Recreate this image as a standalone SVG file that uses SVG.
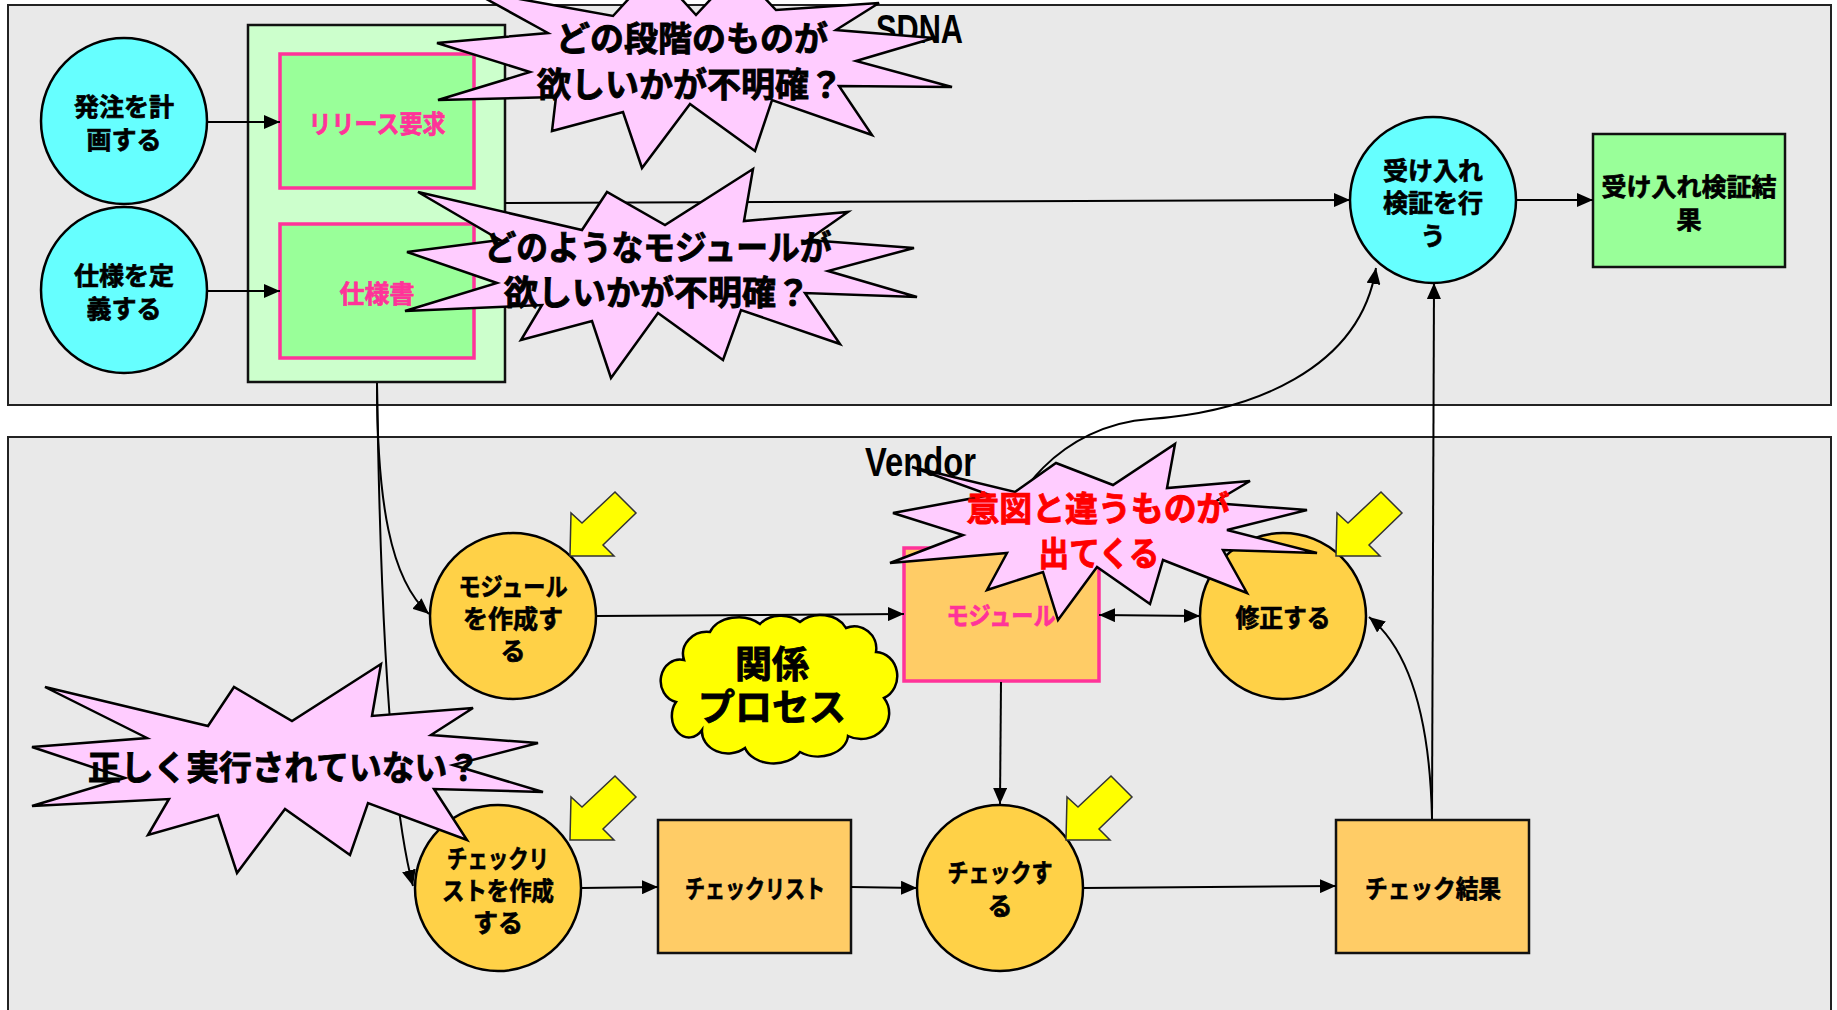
<svg xmlns="http://www.w3.org/2000/svg" width="1837" height="1010" viewBox="0 0 1837 1010">
<defs>
<style>
.lane{fill:#E9E9E9;stroke:#222;stroke-width:2}
.lbl{font-family:"Liberation Sans Narrow","Liberation Sans",Arial,sans-serif;font-size:40px;font-weight:700;fill:#000}
.t{font-family:"Noto Sans CJK JP",sans-serif;font-weight:700;font-size:25px;fill:#000;stroke:#000;stroke-width:0.7;text-anchor:middle}
.pk{fill:#FF3399;stroke:#FF3399}
.cy{fill:#66FFFF;stroke:#000;stroke-width:2.5}
.or{fill:#FFD147;stroke:#000;stroke-width:2.5}
.grn{fill:#99FF99;stroke:#FF3399;stroke-width:3.5}
.grnb{fill:#99FF99;stroke:#111;stroke-width:2.5}
.cont{fill:#CCFFCC;stroke:#111;stroke-width:2.5}
.orr{fill:#FFCC66;stroke:#111;stroke-width:2.5}
.orp{fill:#FFCC66;stroke:#FF3399;stroke-width:3.5}
.c{fill:none;stroke:#000;stroke-width:2}
.ex{fill:#FFCCFF;stroke:#000;stroke-width:2.5;stroke-linejoin:miter}
.ext{font-family:"Noto Sans CJK JP",sans-serif;font-weight:700;font-size:34px;fill:#000;stroke:#000;stroke-width:0.9;text-anchor:middle}
.red{fill:#FF0000;stroke:#FF0000}
.ya{fill:#FFFF00;stroke:#333;stroke-width:1.5}
.cloud{fill:#FFFF00;stroke:#000;stroke-width:2.5}
.clt{font-family:"Noto Sans CJK JP",sans-serif;font-weight:700;font-size:37px;fill:#000;stroke:#000;stroke-width:0.9;text-anchor:middle}
</style>
<marker id="ah" markerUnits="userSpaceOnUse" markerWidth="16" markerHeight="14" refX="16" refY="7" orient="auto"><path d="M0,0 L16,7 L0,14 z" fill="#000"/></marker>
<marker id="as" markerUnits="userSpaceOnUse" markerWidth="16" markerHeight="14" refX="16" refY="7" orient="auto-start-reverse"><path d="M0,0 L16,7 L0,14 z" fill="#000"/></marker>
<path id="yarrow" d="M0,0 L1,-43 L12,-33 L45,-64 L66,-43 L33,-11 L44,0 Z"/>
</defs>

<g id="lanes">
<rect id="lane-sdna" class="lane" x="8" y="5" width="1823" height="400"/>
<rect id="lane-vendor" class="lane" x="8" y="437" width="1823" height="600"/>
<text class="lbl" x="876" y="43" textLength="87" lengthAdjust="spacingAndGlyphs">SDNA</text>
<text class="lbl" x="865" y="476" textLength="111" lengthAdjust="spacingAndGlyphs">Vendor</text>
</g>

<g id="n-plan">
<circle class="cy" cx="124" cy="121" r="83"/>
<text class="t" x="124" y="116">発注を計</text>
<text class="t" x="124" y="149">画する</text>
</g>
<g id="n-define">
<circle class="cy" cx="124" cy="290" r="83"/>
<text class="t" x="124" y="285">仕様を定</text>
<text class="t" x="124" y="318">義する</text>
</g>
<g id="n-container">
<rect class="cont" x="248" y="25" width="257" height="357"/>
</g>
<g id="n-release">
<rect class="grn" x="280" y="54" width="194" height="134"/>
<text class="t pk" x="377" y="133" textLength="137" lengthAdjust="spacingAndGlyphs">リリース要求</text>
</g>
<g id="n-spec">
<rect class="grn" x="280" y="224" width="194" height="134"/>
<text class="t pk" x="377" y="303">仕様書</text>
</g>
<g id="n-accept">
<circle class="cy" cx="1433" cy="200" r="83"/>
<text class="t" x="1433" y="180">受け入れ</text>
<text class="t" x="1433" y="212">検証を行</text>
<text class="t" x="1433" y="245">う</text>
</g>
<g id="n-accept-result">
<rect class="grnb" x="1593" y="134" width="192" height="133"/>
<text class="t" x="1689" y="196">受け入れ検証結</text>
<text class="t" x="1689" y="229">果</text>
</g>
<g id="n-make-module">
<circle class="or" cx="513" cy="616" r="83"/>
<text class="t" x="513" y="596" textLength="109" lengthAdjust="spacingAndGlyphs">モジュール</text>
<text class="t" x="513" y="628">を作成す</text>
<text class="t" x="513" y="660">る</text>
</g>
<g id="n-module">
<rect class="orp" x="904" y="548" width="195" height="133"/>
<text class="t pk" x="1001" y="625" textLength="109" lengthAdjust="spacingAndGlyphs">モジュール</text>
</g>
<g id="n-fix">
<circle class="or" cx="1283" cy="616" r="83"/>
<text class="t" x="1283" y="627" textLength="95" lengthAdjust="spacingAndGlyphs">修正する</text>
</g>
<g id="n-make-checklist">
<circle class="or" cx="498" cy="888" r="83"/>
<text class="t" x="498" y="868" textLength="102" lengthAdjust="spacingAndGlyphs">チェックリ</text>
<text class="t" x="498" y="900" textLength="112" lengthAdjust="spacingAndGlyphs">ストを作成</text>
<text class="t" x="498" y="932">する</text>
</g>
<g id="n-checklist">
<rect class="orr" x="658" y="820" width="193" height="133"/>
<text class="t" x="755" y="898" textLength="140" lengthAdjust="spacingAndGlyphs">チェックリスト</text>
</g>
<g id="n-check">
<circle class="or" cx="1000" cy="888" r="83"/>
<text class="t" x="1000" y="882" textLength="105" lengthAdjust="spacingAndGlyphs">チェックす</text>
<text class="t" x="1000" y="915">る</text>
</g>
<g id="n-check-result">
<rect class="orr" x="1336" y="820" width="193" height="133"/>
<text class="t" x="1433" y="898" textLength="136" lengthAdjust="spacingAndGlyphs">チェック結果</text>
</g>

<g id="connectors">
<path class="c" d="M207 122 L280 122" marker-end="url(#ah)"/>
<path class="c" d="M207 291 L280 291" marker-end="url(#ah)"/>
<path class="c" d="M505 203 L1350 200" marker-end="url(#ah)"/>
<path class="c" d="M1517 200 L1593 200" marker-end="url(#ah)"/>
<path class="c" d="M377 383 C377 500 390 580 429 614" marker-end="url(#ah)"/>
<path class="c" d="M377 383 C380 600 390 800 413 886" marker-end="url(#ah)"/>
<path class="c" d="M596 616 L904 614" marker-end="url(#ah)"/>
<path class="c" d="M1099 615 L1200 616" marker-start="url(#as)" marker-end="url(#ah)"/>
<path class="c" d="M1001 682 L1000 804" marker-end="url(#ah)"/>
<path class="c" d="M581 888 L658 887" marker-end="url(#ah)"/>
<path class="c" d="M851 887 L917 888" marker-end="url(#ah)"/>
<path class="c" d="M1083 888 L1336 886" marker-end="url(#ah)"/>
<path class="c" d="M1432 819 L1434 283" marker-end="url(#ah)"/>
<path class="c" d="M1432 819 C1430 720 1410 650 1369 617" marker-end="url(#ah)"/>
<path class="c" d="M1001 547 C1005 500 1060 425 1150 419 C1250 412 1360 370 1376 268" marker-end="url(#ah)"/>
</g>

<g id="markers">
<use href="#yarrow" class="ya" transform="translate(570,556)"/>
<use href="#yarrow" class="ya" transform="translate(570,840)"/>
<use href="#yarrow" class="ya" transform="translate(1066,840)"/>
<use href="#yarrow" class="ya" transform="translate(1336,556)"/>
</g>

<g id="cloud">
<path class="cloud" d="M684 660 A24 22 0 0 1 710 632 A30 22 0 0 1 760 624 A26 20 0 0 1 800 622 A28 22 0 0 1 846 628 A22 22 0 0 1 876 652 A22 24 0 0 1 884 698 A28 26 0 0 1 848 736 A30 22 0 0 1 800 752 A30 22 0 0 1 745 748 A26 22 0 0 1 702 730 A16 20 0 0 1 676 702 A18 20 0 0 1 684 660 Z"/>
<text class="clt" x="772" y="678">関係</text>
<text class="clt" x="772" y="721">プロセス</text>
</g>

<g id="burst1">
<polygon class="ex" points="437,43 548,33 470,-10 613,16 655,-30 696,15 738,-30 776,10 879,3 836,30 934,38 856,61 952,87 839,86 872,135 772,100 755,151 690,104 642,168 623,112 552,131 556,97 438,100 530,72"/>
<text class="ext" x="692" y="51">どの段階のものが</text>
<text class="ext" x="690" y="97">欲しいかが不明確？</text>
</g>
<g id="burst2">
<polygon class="ex" points="418,192 582,230 607,192 665,225 753,169 744,221 848,212 808,240 914,248 828,271 917,297 805,293 840,344 741,310 723,360 658,313 611,378 592,321 521,340 542,305 405,311 497,283 407,252 500,240"/>
<text class="ext" x="658" y="260" textLength="347" lengthAdjust="spacingAndGlyphs">どのようなモジュールが</text>
<text class="ext" x="657" y="305">欲しいかが不明確？</text>
</g>
<g id="burst3">
<polygon class="ex" points="45,687 208,726 234,687 292,721 381,664 372,716 473,708 431,735 538,743 453,765 543,792 434,789 467,840 368,803 350,855 285,809 237,873 218,815 148,835 169,799 32,806 125,778 32,747 147,738"/>
<text class="ext" x="284" y="780" textLength="392" lengthAdjust="spacingAndGlyphs">正しく実行されていない？</text>
</g>
<g id="burst4">
<polygon class="ex" points="912,467 1015,492 1056,463 1113,485 1175,444 1167,488 1250,481 1213,503 1307,510 1227,530 1317,553 1223,550 1247,593 1163,560 1150,604 1097,567 1058,620 1043,572 987,590 1007,553 890,563 963,535 893,513 990,495"/>
<text class="ext red" x="1098" y="521" textLength="263" lengthAdjust="spacingAndGlyphs">意図と違うものが</text>
<text class="ext red" x="1099" y="566" textLength="121" lengthAdjust="spacingAndGlyphs">出てくる</text>
</g>
</svg>
